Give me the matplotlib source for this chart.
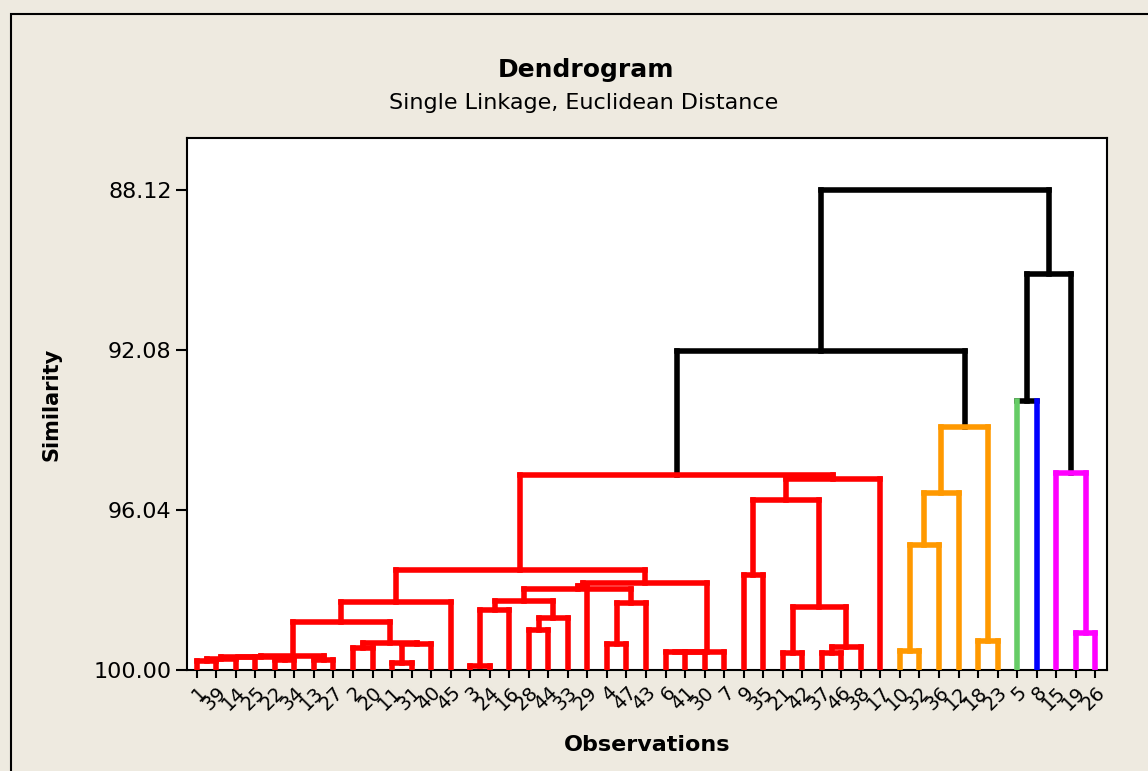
import matplotlib
matplotlib.use('Agg')
import matplotlib.pyplot as plt
from matplotlib.patches import Rectangle

# leaf order along the x axis
leaf_order = [1, 39, 14, 25, 22, 34, 13, 27, 2, 20, 11, 31, 40, 45, 3, 24, 16, 28, 44, 33, 29,
              4, 47, 43, 6, 41, 30, 7, 9, 35, 21, 42, 37, 46, 38, 17, 10, 32, 36, 12, 18, 23,
              5, 8, 15, 19, 26]

# merge steps: (child a, child b, similarity); 'nK' is the node made by step K
merges = [
    (1, 39, 99.78),       # n0
    ('n0', 14, 99.73),    # n1
    ('n1', 25, 99.68),    # n2
    (22, 34, 99.75),      # n3
    ('n2', 'n3', 99.67),  # n4
    (13, 27, 99.75),      # n5
    ('n4', 'n5', 99.65),  # n6
    (2, 20, 99.46),       # n7
    (11, 31, 99.83),      # n8
    ('n8', 40, 99.36),    # n9
    ('n7', 'n9', 99.33),  # n10
    ('n6', 'n10', 98.81), # n11
    ('n11', 45, 98.32),   # n12
    (3, 24, 99.90),       # n13
    ('n13', 16, 98.51),   # n14
    (28, 44, 99.01),      # n15
    ('n15', 33, 98.71),   # n16
    ('n14', 'n16', 98.29),# n17
    (4, 47, 99.36),       # n18
    ('n18', 43, 98.34),   # n19
    ('n17', 'n19', 98.00),# n20
    ('n20', 29, 97.92),   # n21
    (6, 41, 99.55),       # n22
    ('n22', 30, 99.55),   # n23
    ('n23', 7, 99.55),    # n24
    ('n21', 'n24', 97.85),# n25
    ('n12', 'n25', 97.52),# n26
    (9, 35, 97.65),       # n27
    (21, 42, 99.58),      # n28
    (37, 46, 99.58),      # n29
    ('n29', 38, 99.43),   # n30
    ('n28', 'n30', 98.44),# n31
    ('n27', 'n31', 95.79),# n32
    ('n32', 17, 95.27),   # n33
    ('n26', 'n33', 95.17),# n34
    (10, 32, 99.53),      # n35
    ('n35', 36, 96.91),   # n36
    ('n36', 12, 95.62),   # n37
    (18, 23, 99.28),      # n38
    ('n37', 'n38', 93.99),# n39
    ('n34', 'n39', 92.10),# n40
    (5, 8, 93.34),        # n41
    (19, 26, 99.08),      # n42
    (15, 'n42', 95.12),   # n43
    ('n41', 'n43', 90.20),# n44
    ('n40', 'n44', 88.12),# n45
]

# final clusters
red_group = [1, 39, 14, 25, 22, 34, 13, 27, 2, 20, 11, 31, 40, 45, 3, 24, 16, 28, 44, 33, 29,
             4, 47, 43, 6, 41, 30, 7, 9, 35, 21, 42, 37, 46, 38, 17]
orange_group = [10, 32, 36, 12, 18, 23]
green_group = [5]
blue_group = [8]
magenta_group = [15, 19, 26]

y_ticks = [88.12, 92.08, 96.04, 100.00]

group_colors = [(red_group, '#FF0000'), (orange_group, '#FF9900'), (green_group, '#66CC66'),
                (blue_group, '#0000FF'), (magenta_group, '#FF00FF')]
leaf_color = {}
for members, c in group_colors:
    for m in members:
        leaf_color[m] = c

bg = '#EEEAE0'
fig = plt.figure(figsize=(11.48, 7.71), dpi=100, facecolor=bg)
ax = fig.add_axes([187 / 1148, 1 - 670 / 771, 920 / 1148, 532 / 771])
ax.set_facecolor('white')

# position, height and leaves for every node
xpos = {leaf: i for i, leaf in enumerate(leaf_order)}
height = {leaf: 100.0 for leaf in leaf_order}
leaves = {leaf: [leaf] for leaf in leaf_order}
lw = 4.0

for k, (a, b, s) in enumerate(merges):
    node = 'n%d' % k
    leaves[node] = leaves[a] + leaves[b]
    cols = set(leaf_color[l] for l in leaves[node])
    col = cols.pop() if len(cols) == 1 else 'black'
    for child in (a, b):
        vcol = leaf_color[child] if child in leaf_color else col
        ax.plot([xpos[child], xpos[child]], [height[child], s], color=vcol, lw=lw,
                solid_capstyle='projecting', zorder=2 if vcol == 'black' else 3)
    ax.plot([xpos[a], xpos[b]], [s, s], color=col, lw=lw, solid_capstyle='projecting',
            zorder=2 if col == 'black' else 3)
    xpos[node] = (xpos[a] + xpos[b]) / 2
    height[node] = s

ax.set_xlim(-0.5, 46.6)
ax.set_ylim(100, 88.12 - (190 - 138) / 40.4)

ax.set_xticks(range(len(leaf_order)))
ax.set_xticklabels([str(l) for l in leaf_order], rotation=45, ha='right', va='top',
                   rotation_mode='anchor', fontsize=14)
ax.set_yticks(y_ticks)
ax.set_yticklabels(['%.2f' % v for v in y_ticks], fontsize=16)
ax.tick_params(axis='y', direction='out', length=8, width=1.5, pad=3)
ax.tick_params(axis='x', direction='out', length=6, width=1.5, pad=3)
for sp in ax.spines.values():
    sp.set_linewidth(1.5)

ax.set_xlabel('Observations', fontsize=16, fontweight='bold')
ax.set_ylabel('Similarity', fontsize=15, fontweight='bold')
ax.xaxis.set_label_coords(0.5, -0.122)
ax.yaxis.set_label_coords(-0.136, 0.5)

fig.text(586 / 1148, 1 - 70 / 771, 'Dendrogram', ha='center', va='center',
         fontsize=18, fontweight='bold')
fig.text(584 / 1148, 1 - 103 / 771, 'Single Linkage, Euclidean Distance', ha='center',
         va='center', fontsize=16)

# outer frame
fig.patches.append(Rectangle((11 / 1148, -0.1), 1.2, 1 - 14 / 771 + 0.1, transform=fig.transFigure,
                             fill=False, edgecolor='black', lw=1.5))

fig.savefig('out.png', dpi=100, facecolor=bg)
